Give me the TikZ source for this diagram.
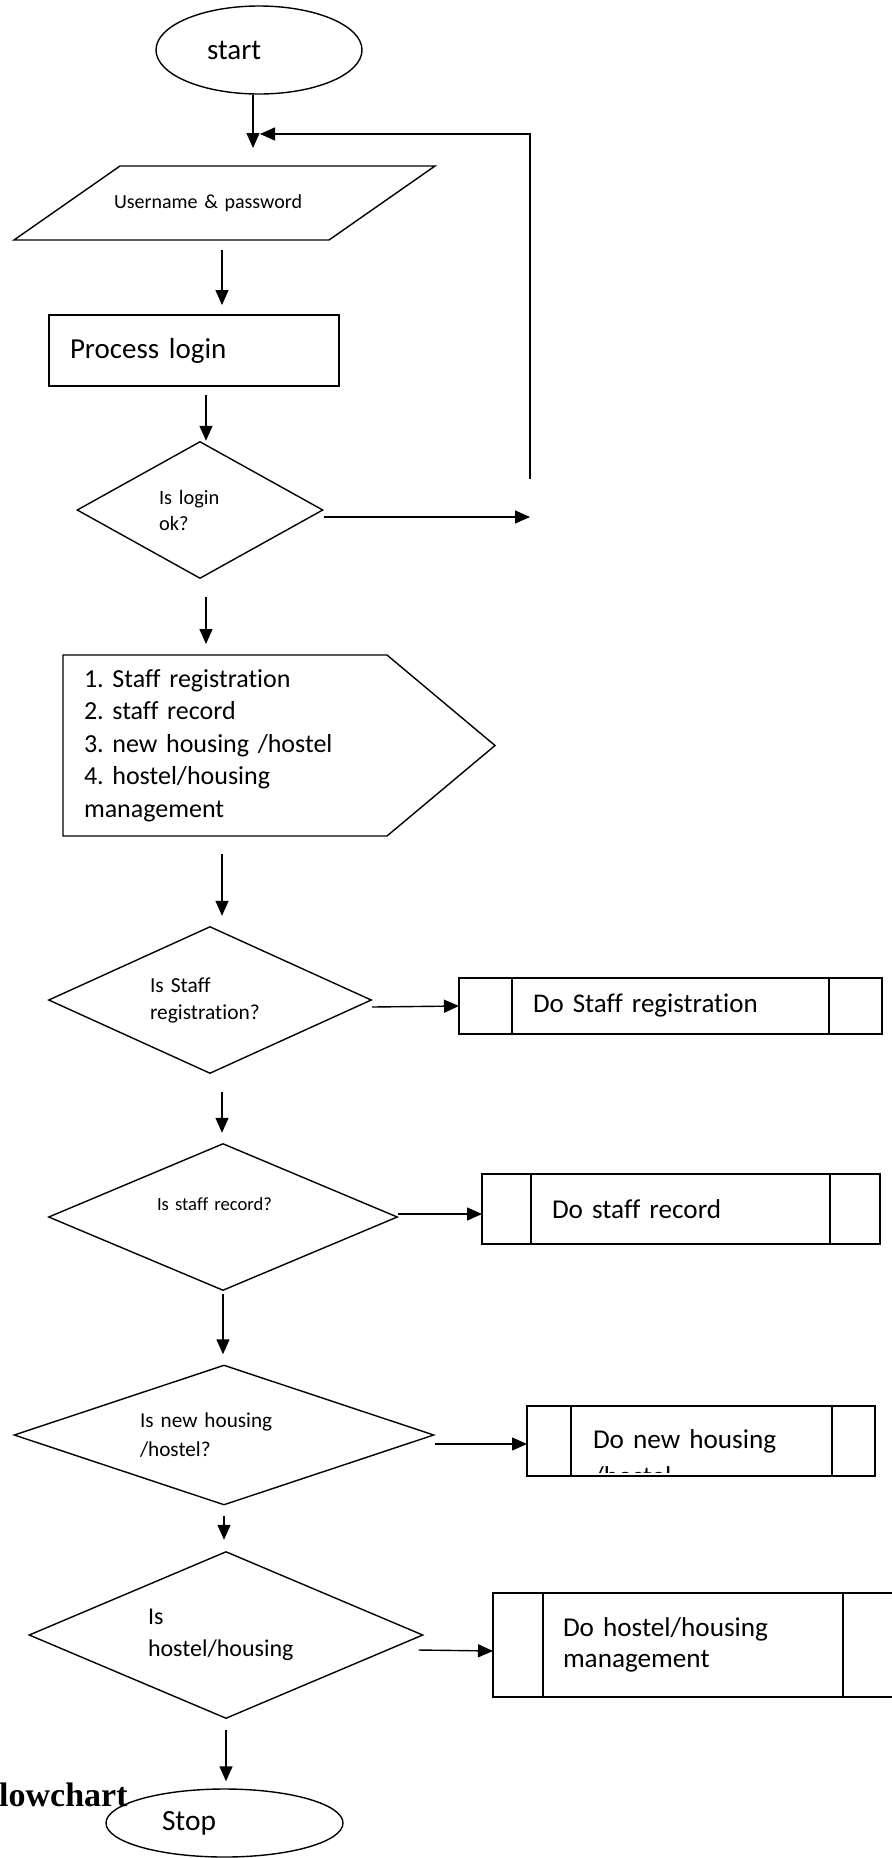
\documentclass[tikz,border=0pt]{standalone}
\usepackage{fontspec}
\setmainfont{Carlito}[Ligatures=NoCommon]
\newfontfamily\capfont{Liberation Serif}
\usetikzlibrary{arrows.meta,shapes.geometric}
\newcommand{\setfs}[2]{\fontsize{#1}{#2}\selectfont}
\frenchspacing
\tikzset{
  arr/.style={-{Triangle[length=7.5pt,width=6.5pt]}, line width=0.7pt},
  terminal/.style={draw, ellipse, line width=0.7pt, inner sep=0pt, align=left},
  decision/.style={draw, diamond, aspect=3, line width=0.7pt, inner sep=0pt, align=left},
  procbox/.style={draw, rectangle, line width=0.7pt, outer sep=0pt, align=left},
  plain/.style={rectangle, outer sep=0pt, align=left},
  outline/.style={line width=0.7pt},
}
\begin{document}
\begin{tikzpicture}[x=0.5pt, y=-0.5pt]
\useasboundingbox (0,0) rectangle (891,1858);

% main column
\node[terminal, minimum width=103pt, minimum height=44pt, text width=52pt, font=\setfs{14.5}{17}] (start) at (259,50) {start};
\node[plain, text width=110.5pt, inner xsep=23.5pt, minimum height=37pt, font=\setfs{10}{12}] (cred) at (224.5,203) {Username \& password};
\node[procbox, text width=124pt, inner xsep=10.5pt, minimum height=35.5pt, font=\setfs{14.5}{17}] (login) at (194,350.5) {Process login};
\node[decision, minimum width=123pt, minimum height=68.5pt, text width=41pt, font=\setfs{10.2}{13}] (okq) at (200,510) {Is login\\ok?};
\node[plain, text width=141pt, inner xsep=10.5pt, minimum height=90.5pt, font=\setfs{13}{16.25}] (menu) at (225,745.5) {1. Staff registration\\2. staff record\\3. new housing /hostel\\4. hostel/housing\\management};
\node[decision, minimum width=161.5pt, minimum height=73.5pt, text width=60pt, font=\setfs{10.7}{13.5}] (regq) at (210,1000) {Is Staff\\registration?};
\node[decision, minimum width=174.5pt, minimum height=73.5pt, text width=66pt, text depth=13pt, font=\setfs{9.3}{11}] (recq) at (223,1217) {Is staff record?};
\node[decision, minimum width=210pt, minimum height=70pt, text width=84pt, font=\setfs{10.6}{14.5}] (newq) at (224,1435) {Is new housing\\/hostel?};
\node[decision, minimum width=197pt, minimum height=83.5pt, text width=78pt, font=\setfs{12}{16.25}] (manq) at (226,1635) {Is\\hostel/housing};
\node[terminal, minimum width=118.5pt, minimum height=34pt, text width=62.5pt, font=\setfs{14.7}{17}] (stop) at (224.5,1823) {Stop};
\node[anchor=base east, inner sep=0pt, font=\capfont\bfseries\setfs{17}{20}] (figcap) at (128,1806) {lowchart};

% outlines of input and menu shapes
\draw[outline] ([xshift=26.5pt]cred.north west) -- ([xshift=26.5pt]cred.north east) -- ([xshift=-26.5pt]cred.south east) -- ([xshift=-26.5pt]cred.south west) -- cycle;
\draw[outline] (menu.north east) -- (menu.north west) -- (menu.south west) -- (menu.south east) -- ([xshift=54pt]menu.east) -- cycle;

% sub processes
\node[procbox, text width=137.5pt, inner xsep=37pt, minimum height=28pt, font=\setfs{13.5}{16}] (regdo) at (670.5,1006) {Do Staff registration};
\node[procbox, text width=129pt, inner xsep=35pt, minimum height=35pt, font=\setfs{13.6}{16}] (recdo) at (681,1209) {Do staff record};
\node[procbox, text width=108pt, inner xsep=33pt, minimum height=35pt, font=\setfs{13.6}{16}] (newdo) at (701,1441) {Do new housing};
\node[procbox, text width=133.5pt, inner xsep=35pt, minimum height=52pt, font=\setfs{13.6}{15.5}] (mando) at (696.5,1645) {Do hostel/housing\\management};
\begin{scope}
  \clip (newdo.north west) rectangle ([yshift=2pt]newdo.south east);
  \node[anchor=base west, inner sep=0pt, font=\setfs{13.6}{16}] (newcut) at (593,1485) {/hostel};
\end{scope}
\foreach \n/\l/\r in {regdo/26.5pt/26.5pt, recdo/24.5pt/25pt, newdo/22pt/21.5pt, mando/25pt/28.5pt}{
  \draw[outline] ([xshift=\l]\n.north west) -- ([xshift=\l]\n.south west);
  \draw[outline] ([xshift=-\r]\n.north east) -- ([xshift=-\r]\n.south east);
}

% loop back
\coordinate (loopin) at (260,134);
\coordinate (loopbot) at (530,479);
\coordinate (noend) at (530,517);

\draw[arr, shorten >=9pt] ([xshift=-3pt]start.south) -- ([xshift=-3pt]start.south |- cred.north);
\draw[arr, shorten <=5pt, shorten >=5pt] ([xshift=-1.25pt]cred.south) -- ([xshift=-1.25pt]cred.south |- login.north);
\draw[arr, shorten <=4.5pt] ([xshift=3pt]okq.north |- login.south) -- ([xshift=3pt]okq.north);
\draw[arr] ([yshift=-3.5pt]okq.east) -- (noend);
\draw[arr] (loopbot) |- (loopin);
\draw[arr, shorten <=9pt, shorten >=5.5pt] ([xshift=3pt]okq.south) -- ([xshift=3pt]okq.south |- menu.north);
\draw[arr, shorten <=9pt, shorten >=5pt] ([xshift=-1.5pt]menu.south) -- ([xshift=-1.5pt]menu.south |- regq.north);
\draw[arr] ([yshift=-3.5pt]regq.east) -- (regdo.west);
\draw[arr, shorten <=9pt, shorten >=5pt] ([xshift=-0.5pt]recq.north |- regq.south) -- ([xshift=-0.5pt]recq.north);
\draw[arr] ([yshift=1.5pt]recq.east) -- ([yshift=1.5pt]recq.east -| recdo.west);
\draw[arr, shorten <=1.5pt, shorten >=5pt] (recq.south) -- (recq.south |- newq.north);
\draw[arr] ([yshift=-4.5pt]newq.east) -- ([yshift=-4.5pt]newq.east -| newdo.west);
\draw[arr, shorten <=5pt, shorten >=5.5pt] (newq.south) -- (newq.south |- manq.north);
\draw[arr] ([xshift=-2.5pt,yshift=-7.5pt]manq.east) -- ([yshift=-3pt]mando.west);
\draw[arr, shorten <=5.5pt, shorten >=3.5pt] (manq.south) -- (manq.south |- stop.north);
\end{tikzpicture}
\end{document}
